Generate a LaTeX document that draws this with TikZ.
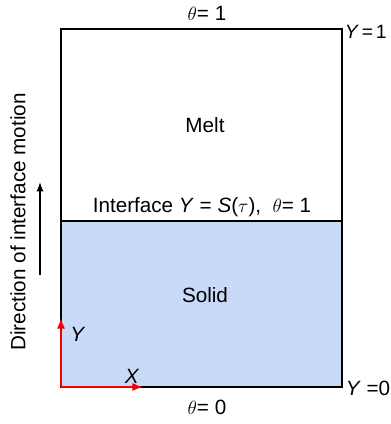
\documentclass[tikz,border=0pt]{standalone}
\usepackage{fontspec}
\setmainfont{Liberation Sans}
\usetikzlibrary{arrows.meta, positioning}
\definecolor{solidc}{HTML}{C9D9F8}
\definecolor{axc}{HTML}{F00000}

\begin{document}
\begin{tikzpicture}[>=Latex, x=0.75pt, y=-0.75pt, line width=1.2pt,
      font=\fontsize{15.5}{18}\selectfont]
    \useasboundingbox (0,0) rectangle (390,424);
    % domain
    \coordinate (bl) at (61,387);
    \coordinate (tr) at (342,29);
    \coordinate (il) at (61,221);
    \coordinate (ir) at (342,221);
    \fill[solidc] (bl) rectangle (ir);
    \draw (bl) rectangle (tr);
    \draw (il) -- (ir);
    % labels
    \node (ttop) at (207,13) {$\theta$= 1};
    \node[anchor=west, inner sep=0pt, font=\fontsize{14.5}{17}\selectfont] (ytop) at (344,32)
      {\textit{Y}\hspace{0.15em}=\hspace{0.15em}1};
    \node (melt) at (205,125) {Melt};
    \node (intf) at (202,207) {Interface \textit{Y} = \textit{S}($\tau$), \ $\theta$= 1};
    \node (solid) at (205,295) {Solid};
    \node[anchor=west, inner sep=0pt] (ybot) at (345,388) {\textit{Y} =0};
    \node (tbot) at (207,407) {$\theta$= 0};
    % axes
    \coordinate (ytip) at (61,318);
    \coordinate (xtip) at (143,387);
    \draw[->, axc, line width=1.1pt] (bl) -- (ytip);
    \draw[->, axc, line width=1.1pt] (bl) -- (xtip);
    \node (ylab) at (78,334) {\textit{Y}};
    \node (xlab) at (132,376) {\textit{X}};
    % motion
    \node[rotate=90] (dir) at (18,222) {Direction of interface motion};
    \coordinate (mtail) at (40,275);
    \coordinate (mtip) at (40,182);
    \draw[->, line width=0.9pt] (mtail) -- (mtip);
  \end{tikzpicture}
\end{document}
